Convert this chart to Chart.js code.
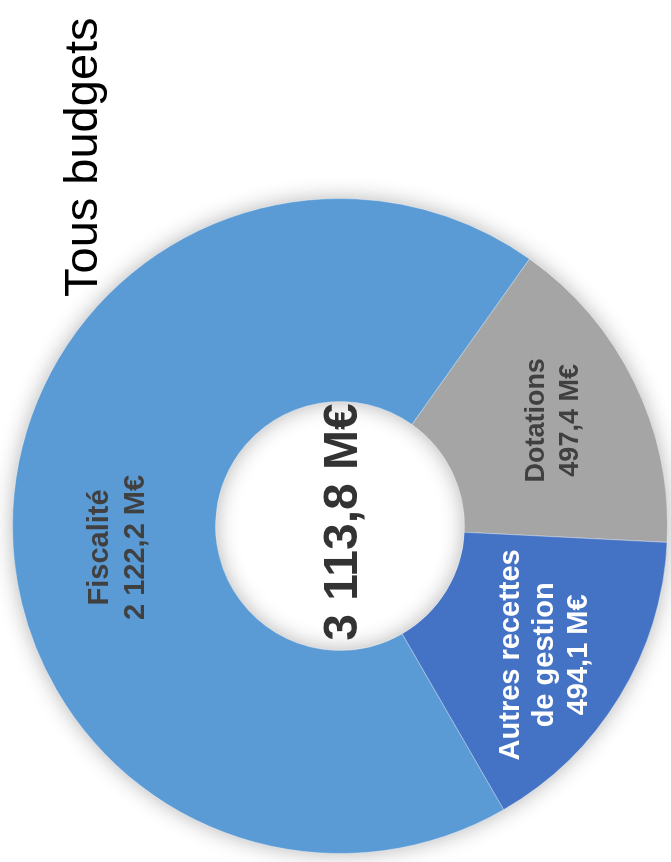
<!DOCTYPE html>
<html lang="fr">
<head>
<meta charset="utf-8">
<title>Tous budgets</title>
<script src="https://cdn.jsdelivr.net/npm/chart.js@4.4.1/dist/chart.umd.min.js"></script>
<style>
    html, body { margin: 0; padding: 0; background: #fff; overflow: hidden; }
    /* le graphique est pivoté d'un quart de tour, lecture de bas en haut */
    #cadre {
        position: absolute; left: 0; top: 0;
        width: 862px; height: 671px;
        transform-origin: 0 0;
        transform: translateY(862px) rotate(-90deg);
    }
</style>
</head>
<body>
<div id="cadre"><canvas id="canvas_recettes" width="862" height="671"></canvas></div>
<script>
'use strict';
var titre        = 'Tous budgets',
    categories   = [['Fiscalité'], ['Dotations'], ['Autres recettes', 'de gestion']],
    montants     = [2122.2, 497.4, 494.1],
    totalAffiche = 3113.8;

var police = '"Liberation Sans", Arial, sans-serif';

function formatMontant(v) {
    var p = v.toFixed(1).split('.');
    p[0] = p[0].replace(/\B(?=(\d{3})+(?!\d))/g, ' ');
    return p[0] + ',' + p[1] + ' M€';
}

// réglages des étiquettes de chaque part : décalage, taille, couleur
var etiquettes = [
    { dx : -32, dy : 1,  taille : 29, couleur : '#404040', interligne : 36 },
    { dx : 7,   dy : 8,  taille : 27, couleur : '#404040', interligne : 34 },
    { dx : -11, dy : 10, taille : 29, couleur : '#ffffff', interligne : 34 }
];

var habillage = {
    id : 'habillage',

    beforeDatasetsDraw : function(chart) {
        var arc = chart.getDatasetMeta(0).data[0],
            ctx = chart.ctx;
        // ombre portée autour de l'anneau (et dans le trou)
        ctx.save();
        ctx.shadowColor = 'rgba(0, 0, 0, 0.32)';
        ctx.shadowBlur  = 22;
        ctx.fillStyle   = '#5B9BD5';
        ctx.beginPath();
        ctx.arc(arc.x, arc.y, arc.outerRadius - 1, 0, Math.PI * 2);
        ctx.arc(arc.x, arc.y, arc.innerRadius + 1, 0, Math.PI * 2, true);
        ctx.fill('evenodd');
        ctx.restore();
    },

    afterDraw : function(chart) {
        var ctx  = chart.ctx,
            meta = chart.getDatasetMeta(0);

        ctx.save();
        ctx.textAlign    = 'center';
        ctx.textBaseline = 'alphabetic';

        // libellés des parts
        meta.data.forEach(function(arc, i) {
            var e      = etiquettes[i],
                pos    = arc.tooltipPosition(),
                cx     = pos.x + e.dx,
                cy     = pos.y + e.dy,
                lignes = categories[i].concat([formatMontant(montants[i])]),
                n      = lignes.length;
            ctx.font      = 'bold ' + e.taille + 'px ' + police;
            ctx.fillStyle = e.couleur;
            lignes.forEach(function(l, k) {
                ctx.fillText(l, cx, cy + (k - (n - 1) / 2) * e.interligne + e.taille * 0.358);
            });
        });

        // total au centre
        var centre = meta.data[0];
        ctx.font      = 'bold 48px ' + police;
        ctx.fillStyle = '#333333';
        ctx.fillText(formatMontant(totalAffiche), centre.x + 4, centre.y + 17);

        // titre
        ctx.font      = '47px ' + police;
        ctx.fillStyle = '#000000';
        ctx.textAlign = 'left';
        ctx.fillText(titre, 565, 97);
        ctx.restore();
    }
};

var donneesRecettes = {
    type : 'doughnut',

    data : {
        labels : categories.map(function(c) { return c.join(' '); }),
        datasets : [{
            data : montants,
            backgroundColor : [
                '#5B9BD5',
                '#A5A5A5',
                '#4472C4',
            ],
            borderColor : 'rgba(255, 255, 255, 0.35)',
            borderWidth : 1,
        }]
    },

    options : {
        responsive          : false,
        maintainAspectRatio : false,
        animation           : false,
        rotation            : 240,
        cutout              : '38%',
        layout : {
            padding : { left : 8, top : 12, right : 198, bottom : 3 }
        },
        plugins : {
            legend  : { display : false },
            tooltip : { enabled : false },
            title   : { display : false }
        }
    },

    plugins : [habillage]
};

var canvasRe = document.getElementById('canvas_recettes').getContext('2d');
window.doughnut = new Chart(canvasRe, donneesRecettes);
</script>
</body>
</html>
